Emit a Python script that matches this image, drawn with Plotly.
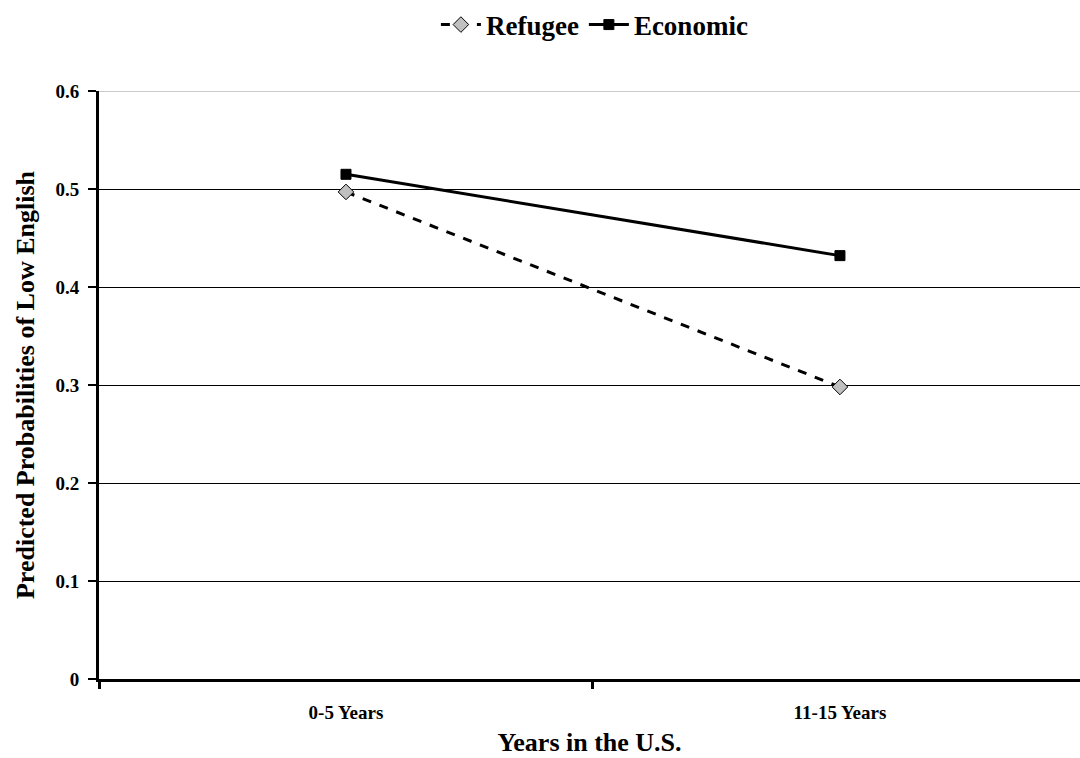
import plotly.graph_objects as go

categories = ["0-5 Years", "11-15 Years"]
refugee = [0.497, 0.298]
economic = [0.515, 0.432]
y_ticks = [0, 0.1, 0.2, 0.3, 0.4, 0.5, 0.6]
y_tick_labels = ["0", "0.1", "0.2", "0.3", "0.4", "0.5", "0.6"]

FONT = "Liberation Serif"

fig = go.Figure()
fig.add_trace(go.Scatter(
    x=categories, y=refugee, name="<b>Refugee</b>", mode="lines+markers",
    line=dict(color="black", width=3, dash="dash"),
    marker=dict(symbol="diamond", size=12, color="#c0c0c0", line=dict(color="black", width=1)),
))
fig.add_trace(go.Scatter(
    x=categories, y=economic, name="<b>Economic</b>", mode="lines+markers",
    line=dict(color="black", width=3),
    marker=dict(symbol="square", size=10, color="black", line=dict(color="black", width=1)),
))

fig.update_layout(
    width=1080, height=758,
    margin=dict(l=99, r=0, t=91, b=79),
    paper_bgcolor="white", plot_bgcolor="white",
    font=dict(family=FONT, color="black"),
    legend=dict(orientation="h", x=0.505, xanchor="center", y=0.967, yref="container", yanchor="middle",
                font=dict(family=FONT, size=27, color="black"), itemwidth=40, tracegroupgap=0),
    showlegend=True,
)
fig.update_xaxes(
    type="category", range=[-0.5, 1.486],
    tickvals=categories, ticktext=["<b>%s</b>" % c for c in categories],
    showline=True, linecolor="black", linewidth=3,
    ticks="outside", tickson="boundaries", ticklen=7, tickwidth=3, tickcolor="black",
    ticklabelstandoff=14,
    showgrid=False, zeroline=False,
    tickfont=dict(family=FONT, size=19, color="black"),
    title=dict(text="<b>Years in the U.S.</b>", font=dict(family=FONT, size=26, color="black"), standoff=12),
)
fig.update_yaxes(
    range=[0, 0.6], tickvals=y_ticks, ticktext=["<b>%s</b>" % t for t in y_tick_labels],
    showline=True, linecolor="black", linewidth=3,
    ticks="outside", ticklen=8, tickwidth=2, tickcolor="black",
    ticklabelstandoff=5,
    showgrid=True, gridcolor="black", gridwidth=1, zeroline=False,
    tickfont=dict(family=FONT, size=19, color="black"),
    title=dict(text="<b>Predicted Probabilities of Low English</b>", font=dict(family=FONT, size=26, color="black"), standoff=14),
)
fig.add_shape(type="line", xref="paper", yref="y", x0=0, x1=1, y0=0.6, y1=0.6,
              line=dict(color="#cccccc", width=2), layer="below")

fig.write_html("out.html", config={"displayModeBar": False},
               post_script="document.body.style.margin='0';document.body.style.overflow='hidden';")
